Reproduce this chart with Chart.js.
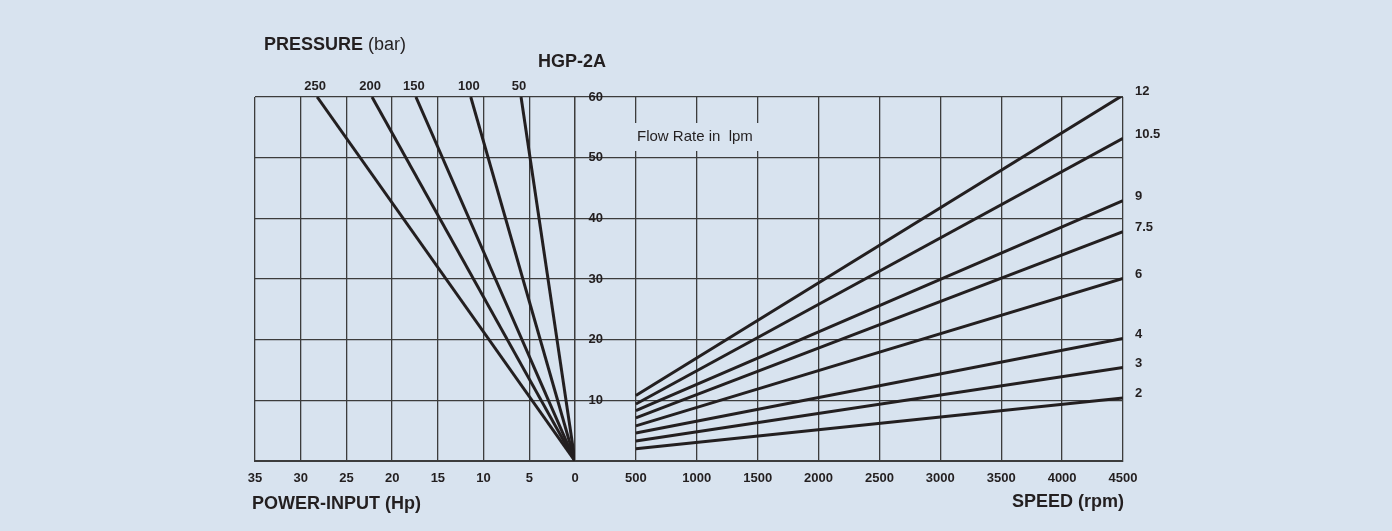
<!DOCTYPE html>
<html>
<head>
<meta charset="utf-8">
<script src="https://cdn.jsdelivr.net/npm/chart.js@4/dist/chart.umd.min.js"></script>
<style>
  html,body{margin:0;padding:0;background:#d8e3ef;}
  #wrap{width:1392px;height:531px;}
</style>
</head>
<body>
<div id="wrap"><canvas id="hgp" width="1392" height="531"></canvas></div>
<script>
// HGP-2A pump curves: power input (left) and flow vs speed (right)
var flowTicks=[0,10,20,30,40,50,60];
var powerRange=[0,35];
var speedRange=[0,4500];      // 0..500 is the blank gap between both panels

var pressureLabels=['250','200','150','100','50'];
var pressureTopHp=[28.2,22.2,17.4,11.4,5.9];      // Hp where each bar line reaches 60

var flowLabels=['12','10.5','9','7.5','6','4','3','2'];
var flowAt500=[10.8,9.4,8.3,7.1,5.8,4.6,3.3,2.0];
var flowAt4500=[60.3,53.2,42.9,37.8,30.1,20.2,15.4,10.4];

(function(){
  var ink='#231f20', grid='#3c3c3c', bg='#d8e3ef';
  var tickFont={family:"'Liberation Sans',Arial,Helvetica,sans-serif",size:13,weight:'bold'};
  var sans="'Liberation Sans',Arial,Helvetica,sans-serif";

  var datasets=[];
  pressureLabels.forEach(function(lab,i){
    datasets.push({label:lab,endLabel:'pressure',xAxisID:'xp',yAxisID:'y',
      data:[{x:0,y:flowTicks[0]},{x:pressureTopHp[i],y:flowTicks[flowTicks.length-1]}]});
  });
  flowLabels.forEach(function(lab,i){
    datasets.push({label:lab,endLabel:'flow',xAxisID:'xs',yAxisID:'y',
      data:[{x:500,y:flowAt500[i]},{x:speedRange[1],y:flowAt4500[i]}]});
  });
  datasets.forEach(function(d){
    d.showLine=true;d.borderColor=ink;d.backgroundColor=ink;d.borderWidth=3;d.pointRadius=0;d.tension=0;
  });

  var fixH=function(s){s.height=32;};

  var texts={
    id:'texts',
    beforeDatasetsDraw:function(chart){
      var c=chart.ctx;
      // paper patch behind the flow note, it breaks the grid lines
      c.save();c.fillStyle=bg;c.fillRect(633,123,127,28);c.restore();
    },
    afterDatasetsDraw:function(chart){
      var c=chart.ctx;
      c.save();
      c.fillStyle=ink;c.textBaseline='middle';
      // end-of-line labels
      c.font='bold 13px '+tickFont.family;
      chart.data.datasets.forEach(function(ds,i){
        var pts=chart.getDatasetMeta(i).data,p=pts[pts.length-1];
        if(ds.endLabel==='pressure'){c.textAlign='center';c.fillText(ds.label,p.x-2,p.y-11);}
        else{c.textAlign='left';c.fillText(ds.label,p.x+12,p.y-4);}
      });
      c.textAlign='left';
      c.font='bold 18px '+sans;
      c.fillText('PRESSURE',264,45);
      var w=c.measureText('PRESSURE ').width;
      c.font='18px '+sans;
      c.fillText('(bar)',264+w,45);
      c.font='bold 18px '+sans;
      c.fillText('HGP-2A',538,62);
      c.fillText('POWER-INPUT (Hp)',252,504);
      c.textAlign='right';
      c.fillText('SPEED (rpm)',1124,502);
      c.textAlign='left';
      c.font='15px '+sans;
      c.fillText('Flow Rate in  lpm',637,137);
      c.restore();
    }
  };

  new Chart(document.getElementById('hgp'),{
    type:'scatter',
    data:{datasets:datasets},
    options:{
      responsive:false,animation:false,
      layout:{padding:{left:255,right:269,top:97,bottom:38}},
      plugins:{legend:{display:false},tooltip:{enabled:false}},
      scales:{
        xp:{type:'linear',axis:'x',position:'bottom',stack:'x',stackWeight:320,
          min:powerRange[0],max:powerRange[1],reverse:true,
          afterFit:fixH,
          ticks:{stepSize:5,color:ink,font:tickFont,padding:10,maxRotation:0,autoSkip:false},
          grid:{color:grid,lineWidth:1.3,drawTicks:false},
          border:{color:grid,width:2}},
        xs:{type:'linear',axis:'x',position:'bottom',stack:'x',stackWeight:548,
          min:speedRange[0],max:speedRange[1],
          afterFit:fixH,
          ticks:{stepSize:500,color:ink,font:tickFont,padding:10,maxRotation:0,autoSkip:false,
            callback:function(v){return v===0?'':v;}},
          grid:{color:grid,lineWidth:1.3,drawTicks:false},
          border:{color:grid,width:2}},
        y:{type:'linear',axis:'y',position:{xs:230},
          min:flowTicks[0],max:flowTicks[flowTicks.length-1],
          afterBuildTicks:function(s){s.ticks=flowTicks.map(function(v){return {value:v};});},
          ticks:{color:ink,font:tickFont,padding:0,callback:function(v){return v===0?'':v;}},
          grid:{color:grid,lineWidth:1.3,drawTicks:false},
          border:{display:false}}
      }
    },
    plugins:[texts]
  });
})();
</script>
</body>
</html>
